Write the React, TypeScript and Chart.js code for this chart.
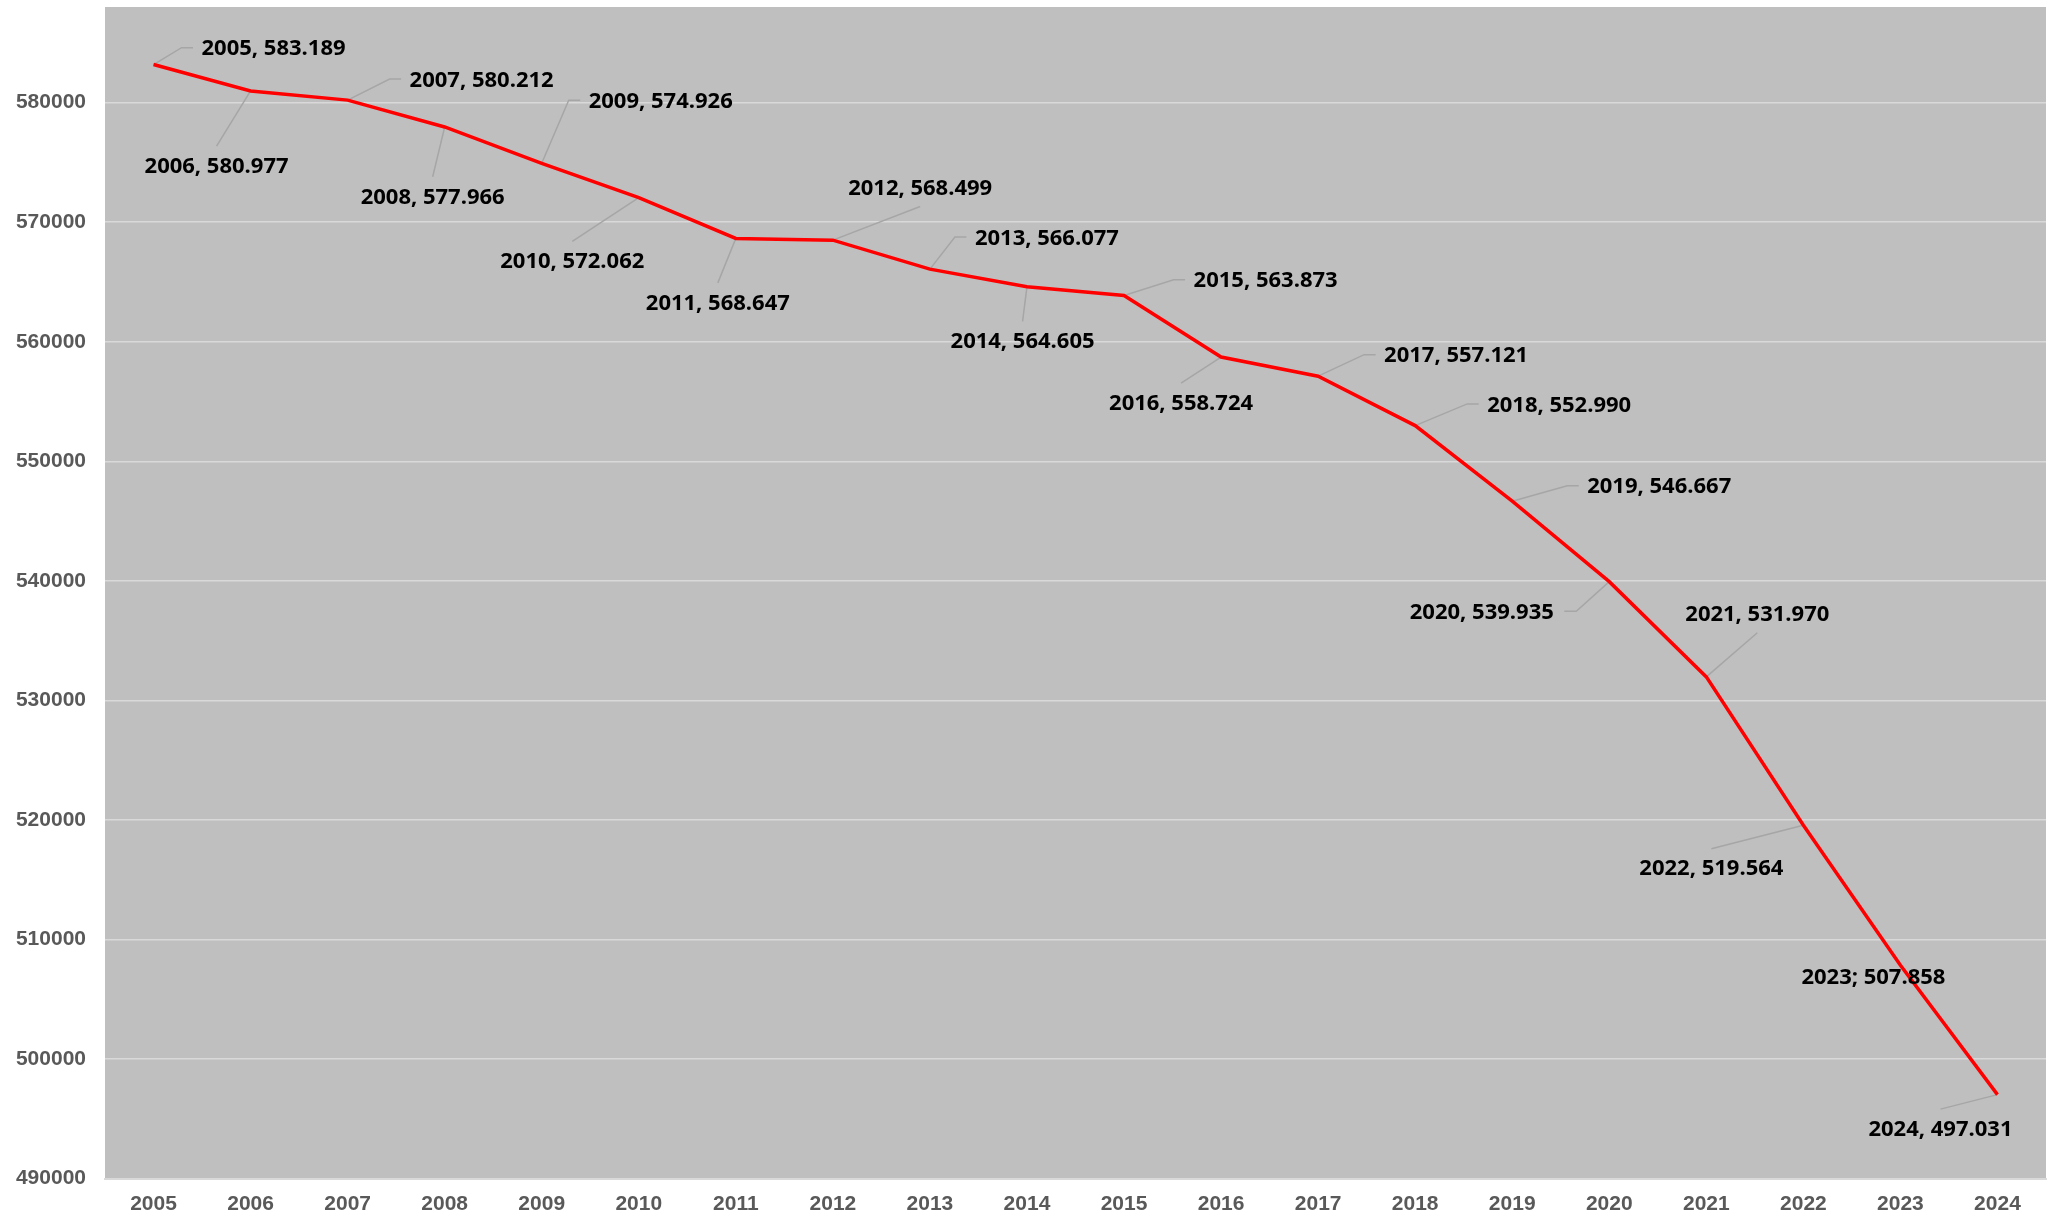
import React, { useEffect, useRef } from "react";
import { Chart, registerables } from "chart.js";

Chart.register(...registerables);

const years = [
  "2005", "2006", "2007", "2008", "2009", "2010", "2011", "2012", "2013", "2014",
  "2015", "2016", "2017", "2018", "2019", "2020", "2021", "2022", "2023", "2024",
];

const population = [
  583189, 580977, 580212, 577966, 574926, 572062, 568647, 568499, 566077, 564605,
  563873, 558724, 557121, 552990, 546667, 539935, 531970, 519564, 507858, 497031,
];

const valueLabels = [
  "2005, 583.189", "2006, 580.977", "2007, 580.212", "2008, 577.966", "2009, 574.926",
  "2010, 572.062", "2011, 568.647", "2012, 568.499", "2013, 566.077", "2014, 564.605",
  "2015, 563.873", "2016, 558.724", "2017, 557.121", "2018, 552.990", "2019, 546.667",
  "2020, 539.935", "2021, 531.970", "2022, 519.564", "2023; 507.858", "2024, 497.031",
];

const yTickValues = [490000, 500000, 510000, 520000, 530000, 540000, 550000, 560000, 570000, 580000];
const yMin = 490000;
const yMax = 588000;

// label placement (style): offset of label centre from the point, and leader kind
const labelLayout: [number, number, string][] = [
  [120, -15.3, "L"],
  [-34, 75.7, "T"],
  [134, -19.5, "L"],
  [-12, 70.3, "T"],
  [119, -61.6, "L"],
  [-66.5, 64.2, "T"],
  [-18, 65, "T"],
  [87.3, -51.7, "B"],
  [117, -30.6, "L"],
  [-4.4, 55.2, "T"],
  [141.6, -14.3, "L"],
  [-40, 46.6, "T"],
  [138, -20, "L"],
  [144, -20.2, "L"],
  [147, -14, "L"],
  [-127.5, 30.6, "R"],
  [51, -62.2, "B"],
  [-92, 44, "T"],
  [-27, 12.6, "N"],
  [-57, 35, "T"],
];

const SHIFT = 19;

const bgPlugin = {
  id: "plotBg",
  beforeDraw(chart: any) {
    const { ctx, chartArea } = chart;
    ctx.save();
    ctx.fillStyle = "#bfbfbf";
    ctx.fillRect(chartArea.left, chartArea.top, chartArea.right - chartArea.left, chartArea.bottom - chartArea.top);
    ctx.restore();
  },
};

const labelPlugin = {
  id: "valueLabels",
  beforeDatasetsDraw(chart: any) {
    const { ctx } = chart;
    const meta = chart.getDatasetMeta(0);
    ctx.save();
    ctx.strokeStyle = "#a6a6a6";
    ctx.lineWidth = 1.5;
    meta.data.forEach((pt: any, i: number) => {
      const [dx, dy, kind] = labelLayout[i];
      const cx = pt.x + dx;
      const cy = pt.y + dy;
      const half = 72.5;
      ctx.beginPath();
      if (kind === "L") {
        const left = cx - half;
        ctx.moveTo(pt.x, pt.y);
        ctx.lineTo(left - 19.5, cy - 1.5);
        ctx.lineTo(left - 8, cy - 1.5);
      } else if (kind === "R") {
        const right = cx + half;
        ctx.moveTo(pt.x, pt.y);
        ctx.lineTo(right + 22, cy - 1);
        ctx.lineTo(right + 10, cy - 1);
      } else if (kind === "T") {
        ctx.moveTo(pt.x, pt.y);
        ctx.lineTo(cx, cy - 20.5);
      } else if (kind === "B") {
        ctx.moveTo(pt.x, pt.y);
        ctx.lineTo(cx, cy + 18);
      }
      ctx.stroke();
    });
    ctx.restore();
  },
  afterDatasetsDraw(chart: any) {
    const { ctx } = chart;
    const meta = chart.getDatasetMeta(0);
    ctx.save();
    ctx.fillStyle = "#000000";
    ctx.font = "bold 22px 'Open Sans'";
    ctx.textAlign = "center";
    ctx.textBaseline = "middle";
    meta.data.forEach((pt: any, i: number) => {
      const [dx, dy] = labelLayout[i];
      ctx.fillText(valueLabels[i], pt.x + dx, pt.y + dy);
    });
    ctx.restore();
  },
};

export default function App() {
  const canvasRef = useRef<HTMLCanvasElement | null>(null);

  useEffect(() => {
    document.body.style.margin = "0";
    const canvas = canvasRef.current;
    if (!canvas) return;
    const chart = new Chart(canvas, {
      type: "line",
      data: {
        labels: years,
        datasets: [
          {
            data: population,
            borderColor: "#ff0000",
            borderWidth: 3.5,
            pointRadius: 0,
            pointHoverRadius: 0,
            tension: 0,
            fill: false,
          },
        ],
      },
      options: {
        animation: false,
        responsive: false,
        devicePixelRatio: 1,
        events: [],
        layout: { padding: { left: 0, right: 10, top: 0, bottom: 0 } },
        plugins: {
          legend: { display: false },
          tooltip: { enabled: false },
          title: { display: false },
        },
        scales: {
          x: {
            type: "category",
            offset: true,
            grid: { display: false, drawTicks: false },
            border: { display: true, color: "#d9d9d9", width: 2 },
            ticks: {
              color: "#595959",
              font: { family: "'Liberation Sans', Arial, sans-serif", size: 21, weight: "bold" },
              padding: 12.5,
              maxRotation: 0,
              autoSkip: false,
            },
            afterFit(scale: any) {
              scale.height = 45.3;
            },
          },
          y: {
            type: "linear",
            min: yMin,
            max: yMax,
            afterBuildTicks(scale: any) {
              scale.ticks = yTickValues.map((v) => ({ value: v }));
            },
            grid: { color: "#d9d9d9", lineWidth: 1.5, drawTicks: false },
            border: { display: false },
            ticks: {
              color: "#595959",
              font: { family: "'Liberation Sans', Arial, sans-serif", size: 21, weight: "bold", lineHeight: 0.667 },
              padding: 19,
              callback: (v: any) => String(v),
            },
            afterFit(scale: any) {
              scale.width = 105;
            },
          },
        },
      } as any,
      plugins: [bgPlugin, labelPlugin],
    });
    return () => chart.destroy();
  }, []);

  return (
    <div style={{ width: 2056, height: 1224, overflow: "hidden", position: "relative" }}>
      <canvas
        ref={canvasRef}
        width={2056}
        height={1224 + SHIFT}
        style={{ display: "block", position: "absolute", left: 0, top: -SHIFT, width: 2056, height: 1224 + SHIFT }}
      />
    </div>
  );
}
